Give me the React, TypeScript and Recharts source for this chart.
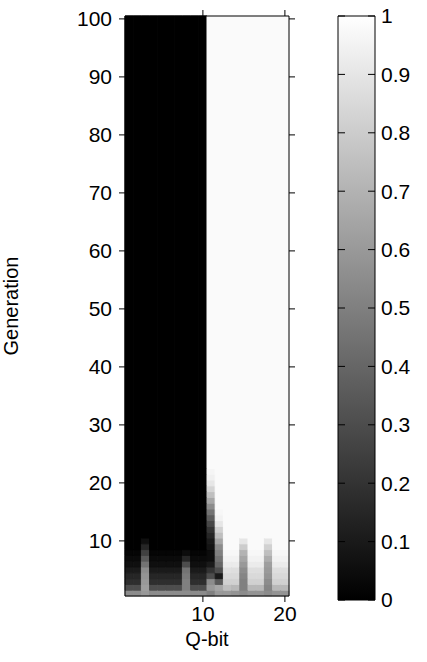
import React from 'react';
import { ComposedChart, XAxis, YAxis, ReferenceArea, Scatter } from 'recharts';

// Q-bit index (x) and generation (y)
const qBits = [1, 2, 3, 4, 5, 6, 7, 8, 9, 10, 11, 12, 13, 14, 15, 16, 17, 18, 19, 20];
const generationCount = 100;
const xTicks = [10, 20];
const yTicks = [10, 20, 30, 40, 50, 60, 70, 80, 90, 100];
const barTicks = [0, 0.1, 0.2, 0.3, 0.4, 0.5, 0.6, 0.7, 0.8, 0.9, 1];

// probability values for generations 1..22 (one row per generation, one value per Q-bit)
const earlyGenerations = [
  [0.55, 0.55, 0.6, 0.55, 0.55, 0.55, 0.55, 0.55, 0.55, 0.55, 0.5, 0.6, 0.6, 0.58, 0.55, 0.58, 0.58, 0.55, 0.58, 0.58],
  [0.3, 0.3, 0.62, 0.3, 0.3, 0.3, 0.3, 0.5, 0.3, 0.3, 0.6, 0.65, 0.75, 0.72, 0.5, 0.72, 0.72, 0.52, 0.72, 0.72],
  [0.18, 0.18, 0.6, 0.18, 0.18, 0.18, 0.18, 0.5, 0.18, 0.18, 0.55, 0.35, 0.82, 0.82, 0.5, 0.82, 0.82, 0.55, 0.82, 0.82],
  [0.15, 0.15, 0.58, 0.15, 0.15, 0.15, 0.15, 0.48, 0.15, 0.15, 0.3, 0.1, 0.85, 0.85, 0.52, 0.85, 0.85, 0.58, 0.85, 0.85],
  [0.1, 0.1, 0.55, 0.1, 0.1, 0.1, 0.1, 0.45, 0.1, 0.1, 0.2, 0.3, 0.88, 0.87, 0.55, 0.87, 0.87, 0.6, 0.87, 0.87],
  [0.06, 0.06, 0.45, 0.06, 0.06, 0.06, 0.06, 0.3, 0.06, 0.06, 0.1, 0.4, 0.92, 0.92, 0.6, 0.92, 0.92, 0.62, 0.92, 0.92],
  [0.04, 0.04, 0.35, 0.04, 0.04, 0.04, 0.04, 0.15, 0.04, 0.04, 0.05, 0.45, 0.95, 0.95, 0.65, 0.95, 0.95, 0.68, 0.95, 0.95],
  [0.02, 0.02, 0.25, 0.02, 0.02, 0.02, 0.02, 0.05, 0.02, 0.02, 0.05, 0.5, 0.97, 0.97, 0.7, 0.97, 0.97, 0.75, 0.97, 0.97],
  [0, 0, 0.15, 0, 0, 0, 0, 0, 0, 0, 0.08, 0.55, 0.98, 0.98, 0.8, 0.98, 0.98, 0.82, 0.98, 0.98],
  [0, 0, 0.06, 0, 0, 0, 0, 0, 0, 0, 0.1, 0.65, 0.98, 0.98, 0.9, 0.98, 0.98, 0.9, 0.98, 0.98],
  [0, 0, 0, 0, 0, 0, 0, 0, 0, 0, 0.15, 0.75, 0.98, 0.98, 0.98, 0.98, 0.98, 0.98, 0.98, 0.98],
  [0, 0, 0, 0, 0, 0, 0, 0, 0, 0, 0.2, 0.82, 0.98, 0.98, 0.98, 0.98, 0.98, 0.98, 0.98, 0.98],
  [0, 0, 0, 0, 0, 0, 0, 0, 0, 0, 0.28, 0.9, 0.98, 0.98, 0.98, 0.98, 0.98, 0.98, 0.98, 0.98],
  [0, 0, 0, 0, 0, 0, 0, 0, 0, 0, 0.36, 0.95, 0.98, 0.98, 0.98, 0.98, 0.98, 0.98, 0.98, 0.98],
  [0, 0, 0, 0, 0, 0, 0, 0, 0, 0, 0.45, 0.97, 0.98, 0.98, 0.98, 0.98, 0.98, 0.98, 0.98, 0.98],
  [0, 0, 0, 0, 0, 0, 0, 0, 0, 0, 0.55, 0.98, 0.98, 0.98, 0.98, 0.98, 0.98, 0.98, 0.98, 0.98],
  [0, 0, 0, 0, 0, 0, 0, 0, 0, 0, 0.65, 0.98, 0.98, 0.98, 0.98, 0.98, 0.98, 0.98, 0.98, 0.98],
  [0, 0, 0, 0, 0, 0, 0, 0, 0, 0, 0.75, 0.98, 0.98, 0.98, 0.98, 0.98, 0.98, 0.98, 0.98, 0.98],
  [0, 0, 0, 0, 0, 0, 0, 0, 0, 0, 0.83, 0.98, 0.98, 0.98, 0.98, 0.98, 0.98, 0.98, 0.98, 0.98],
  [0, 0, 0, 0, 0, 0, 0, 0, 0, 0, 0.9, 0.98, 0.98, 0.98, 0.98, 0.98, 0.98, 0.98, 0.98, 0.98],
  [0, 0, 0, 0, 0, 0, 0, 0, 0, 0, 0.94, 0.98, 0.98, 0.98, 0.98, 0.98, 0.98, 0.98, 0.98, 0.98],
  [0, 0, 0, 0, 0, 0, 0, 0, 0, 0, 0.96, 0.98, 0.98, 0.98, 0.98, 0.98, 0.98, 0.98, 0.98, 0.98],
];

// value of each Q-bit after the early generations (converged)
const convergedValues = [0, 0, 0, 0, 0, 0, 0, 0, 0, 0, 0.98, 0.98, 0.98, 0.98, 0.98, 0.98, 0.98, 0.98, 0.98, 0.98];

const FONT = '"Liberation Sans", Arial, sans-serif';
const tickStyle = { fill: '#000', fontSize: 21, fontFamily: FONT };

const gray = (v: number) => {
  const c = Math.round(v * 255);
  return `rgb(${c},${c},${c})`;
};

const valueAt = (col: number, gen: number) =>
  gen <= earlyGenerations.length ? earlyGenerations[gen - 1][col] : convergedValues[col];

// merge consecutive generations with equal value into one block per column
const cells: { q: number; from: number; to: number; v: number }[] = [];
qBits.forEach((q, col) => {
  let start = 1;
  for (let g = 2; g <= generationCount + 1; g++) {
    if (g > generationCount || valueAt(col, g) !== valueAt(col, start)) {
      cells.push({ q, from: start, to: g - 1, v: valueAt(col, start) });
      start = g;
    }
  }
});

// points that give the axes something to measure
const anchorPoints = cells.map((c) => ({ q: c.q, g: c.from }));
const barAnchors = [
  { x: 0, y: 0 },
  { x: 1, y: 1 },
];

const noShape = () => <g />;
// tick lines only, no label
const blankTick = () => <g />;

export default function App() {
  return (
    <div style={{ position: 'absolute', left: 0, top: 0, width: 427, height: 662, background: '#fff', fontFamily: FONT }}>
      <div style={{ position: 'absolute', left: 0, top: 0 }}>
        <ComposedChart width={300} height={662} margin={{ top: 10, right: 5, bottom: 0, left: 0 }}>
          <XAxis
            xAxisId="b"
            dataKey="q"
            type="number"
            domain={[0.5, 20.5]}
            allowDataOverflow
            ticks={xTicks}
            interval={0}
            height={66}
            tickSize={6}
            tickMargin={4}
            tick={tickStyle}
            axisLine={{ stroke: '#000' }}
            tickLine={{ stroke: '#000' }}
            label={{
              content: ({ viewBox }: any) => (
                <text x={viewBox.x + viewBox.width / 2} y={viewBox.y + 50} textAnchor="middle" fontSize={20} fill="#000">
                  Q-bit
                </text>
              ),
            }}
          />
          <XAxis
            xAxisId="t"
            dataKey="q"
            orientation="top"
            type="number"
            domain={[0.5, 20.5]}
            allowDataOverflow
            ticks={xTicks}
            interval={0}
            height={6}
            tickSize={6}
            tick={blankTick}
            axisLine={{ stroke: '#000' }}
            tickLine={{ stroke: '#000' }}
          />
          <YAxis
            yAxisId="l"
            dataKey="g"
            type="number"
            domain={[0.5, generationCount + 0.5]}
            allowDataOverflow
            ticks={yTicks}
            interval={0}
            width={125}
            tickSize={6}
            tickMargin={7}
            tick={tickStyle}
            axisLine={{ stroke: '#000' }}
            tickLine={{ stroke: '#000' }}
            label={{
              content: ({ viewBox }: any) => {
                const x = viewBox.x + 18;
                const y = viewBox.y + viewBox.height / 2;
                return (
                  <text x={x} y={y} transform={`rotate(-90 ${x} ${y})`} textAnchor="middle" fontSize={20} fill="#000">
                    Generation
                  </text>
                );
              },
            }}
          />
          <YAxis
            yAxisId="r"
            dataKey="g"
            orientation="right"
            type="number"
            domain={[0.5, generationCount + 0.5]}
            allowDataOverflow
            ticks={yTicks}
            interval={0}
            width={6}
            tickSize={6}
            tick={blankTick}
            axisLine={{ stroke: '#000' }}
            tickLine={{ stroke: '#000' }}
          />
          {cells.map((c, i) => (
            <ReferenceArea
              key={i}
              xAxisId="b"
              yAxisId="l"
              x1={c.q - 0.5}
              x2={c.q + 0.5}
              y1={c.from - 0.5}
              y2={c.to + 0.5}
              fill={gray(c.v)}
              fillOpacity={1}
              stroke={gray(c.v)}
              strokeWidth={1}
              ifOverflow="visible"
            />
          ))}
          <Scatter xAxisId="b" yAxisId="l" data={anchorPoints} dataKey="g" shape={noShape} isAnimationActive={false} />
          <Scatter xAxisId="t" yAxisId="r" data={anchorPoints} dataKey="g" shape={noShape} isAnimationActive={false} />
        </ComposedChart>
      </div>

      {/* colorbar */}
      <div style={{ position: 'absolute', left: 320, top: 0 }}>
        <ComposedChart width={107} height={662} margin={{ top: 16, right: 0, bottom: 62, left: 18 }}>
          <defs>
            <linearGradient id="cbar" x1="0" y1="1" x2="0" y2="0">
              <stop offset="0%" stopColor="#000" />
              <stop offset="100%" stopColor="#fff" />
            </linearGradient>
          </defs>
          <XAxis xAxisId="cx" dataKey="x" type="number" domain={[0, 1]} hide />
          <ReferenceArea
            xAxisId="cx"
            yAxisId="cv"
            x1={0}
            x2={1}
            y1={0}
            y2={1}
            fill="url(#cbar)"
            fillOpacity={1}
            stroke="#000"
            strokeWidth={1}
          />
          <YAxis
            yAxisId="cl"
            dataKey="y"
            orientation="left"
            mirror
            type="number"
            domain={[0, 1]}
            ticks={barTicks}
            interval={0}
            tickSize={7}
            tick={blankTick}
            axisLine={false}
            tickLine={{ stroke: '#000' }}
          />
          <YAxis
            yAxisId="cr"
            dataKey="y"
            orientation="right"
            mirror
            type="number"
            domain={[0, 1]}
            ticks={barTicks}
            interval={0}
            tickSize={7}
            tick={blankTick}
            axisLine={false}
            tickLine={{ stroke: '#000' }}
          />
          <YAxis
            yAxisId="cv"
            dataKey="y"
            orientation="right"
            type="number"
            domain={[0, 1]}
            ticks={barTicks}
            interval={0}
            width={52}
            tickSize={0}
            tickMargin={6}
            tick={{ ...tickStyle, textAnchor: 'start' }}
            axisLine={false}
            tickLine={false}
          />
          <Scatter xAxisId="cx" yAxisId="cv" data={barAnchors} dataKey="y" shape={noShape} isAnimationActive={false} />
          <Scatter xAxisId="cx" yAxisId="cl" data={barAnchors} dataKey="y" shape={noShape} isAnimationActive={false} />
          <Scatter xAxisId="cx" yAxisId="cr" data={barAnchors} dataKey="y" shape={noShape} isAnimationActive={false} />
        </ComposedChart>
      </div>
    </div>
  );
}
